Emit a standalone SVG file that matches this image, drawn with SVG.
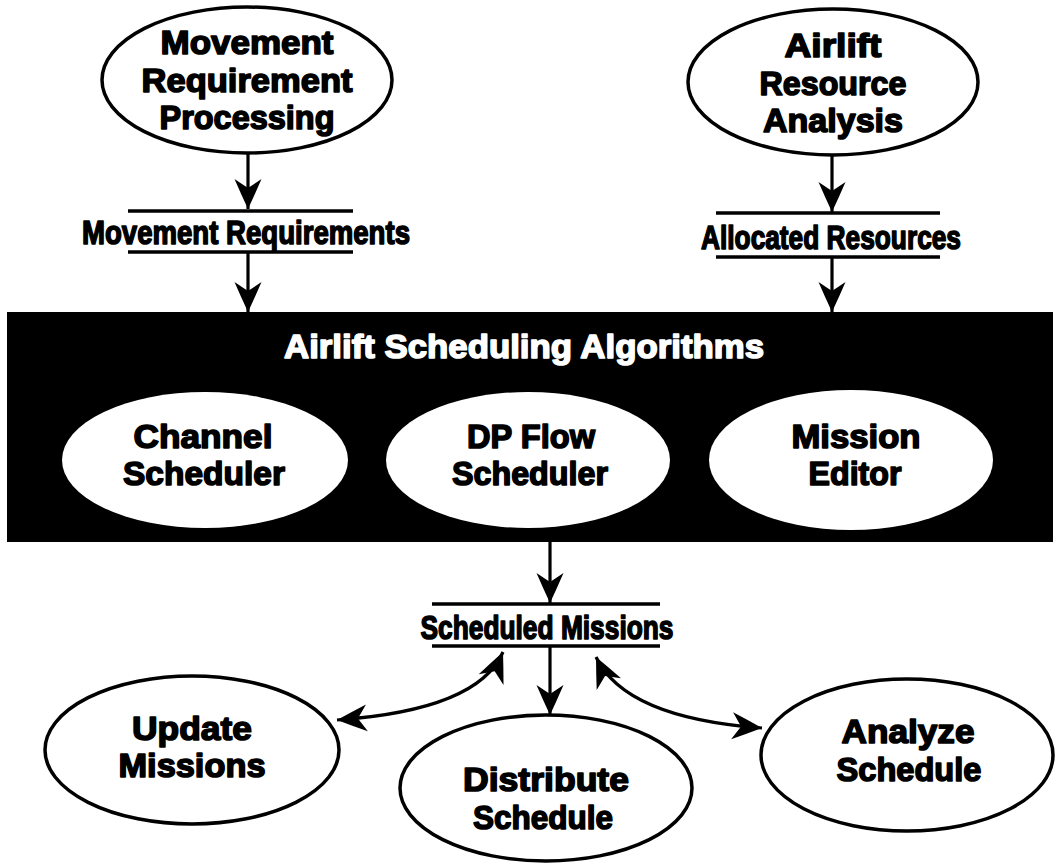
<svg xmlns="http://www.w3.org/2000/svg" width="1060" height="864" viewBox="0 0 1060 864">
  <style>
    .bg { fill: #ffffff; }
    .proc { fill: #ffffff; stroke: #000000; stroke-width: 3.5; }
    .inner { fill: #ffffff; stroke: none; }
    .band { fill: #000000; }
    .t { font-family: "Liberation Sans", Arial, sans-serif; font-weight: 700; font-size: 34px; fill: #000000; stroke: #000000; stroke-width: 1.6; stroke-linejoin: round; text-anchor: middle; }
    .tw { fill: #ffffff; stroke: #ffffff; }
    .store { stroke: #000000; stroke-width: 3.5; fill: none; }
    .flow { stroke: #000000; stroke-width: 3.2; fill: none; }
  </style>
  <defs>
    <marker id="head" viewBox="0 -14 31 28" refX="30" refY="0" markerWidth="31" markerHeight="28" markerUnits="userSpaceOnUse" orient="auto-start-reverse">
      <path d="M30,0 Q15,-7 0,-13.5 L9,0 L0,13.5 Q15,7 30,0 Z" fill="#000000"/>
    </marker>
  </defs>

  <rect class="bg" x="0" y="0" width="1060" height="864"/>

  <!-- source processes -->
  <g id="movement-requirement-processing">
    <ellipse class="proc" cx="247" cy="80" rx="145" ry="73"/>
    <text class="t" x="247" y="54" textLength="173" lengthAdjust="spacingAndGlyphs">Movement</text>
    <text class="t" x="247" y="92" textLength="211" lengthAdjust="spacingAndGlyphs">Requirement</text>
    <text class="t" x="247" y="129" textLength="175" lengthAdjust="spacingAndGlyphs">Processing</text>
  </g>

  <g id="airlift-resource-analysis">
    <ellipse class="proc" cx="833" cy="82" rx="145" ry="73"/>
    <text class="t" x="833" y="57" textLength="97" lengthAdjust="spacingAndGlyphs">Airlift</text>
    <text class="t" x="833" y="95" textLength="147" lengthAdjust="spacingAndGlyphs">Resource</text>
    <text class="t" x="833" y="132" textLength="140" lengthAdjust="spacingAndGlyphs">Analysis</text>
  </g>

  <!-- data stores -->
  <g id="movement-requirements">
    <line class="store" x1="128" y1="211" x2="353" y2="211"/>
    <line class="store" x1="128" y1="252" x2="353" y2="252"/>
    <text class="t" x="246" y="244" textLength="328" lengthAdjust="spacingAndGlyphs">Movement Requirements</text>
  </g>

  <g id="allocated-resources">
    <line class="store" x1="716" y1="213" x2="940" y2="213"/>
    <line class="store" x1="716" y1="257" x2="940" y2="257"/>
    <text class="t" x="831" y="249" textLength="260" lengthAdjust="spacingAndGlyphs">Allocated Resources</text>
  </g>

  <!-- algorithm block -->
  <g id="airlift-scheduling-algorithms">
    <rect class="band" x="7" y="312" width="1046" height="230"/>
    <text class="t tw" x="524" y="358" font-size="37" textLength="480" lengthAdjust="spacingAndGlyphs">Airlift Scheduling Algorithms</text>
  </g>

  <g id="channel-scheduler">
    <ellipse class="inner" cx="205" cy="460" rx="143" ry="68"/>
    <text class="t" x="203" y="448" textLength="139" lengthAdjust="spacingAndGlyphs">Channel</text>
    <text class="t" x="204" y="485" textLength="162" lengthAdjust="spacingAndGlyphs">Scheduler</text>
  </g>

  <g id="dp-flow-scheduler">
    <ellipse class="inner" cx="528" cy="460" rx="142" ry="68"/>
    <text class="t" x="531" y="448" textLength="128" lengthAdjust="spacingAndGlyphs">DP Flow</text>
    <text class="t" x="530" y="485" textLength="156" lengthAdjust="spacingAndGlyphs">Scheduler</text>
  </g>

  <g id="mission-editor">
    <ellipse class="inner" cx="851" cy="460" rx="142" ry="70"/>
    <text class="t" x="856" y="448" textLength="129" lengthAdjust="spacingAndGlyphs">Mission</text>
    <text class="t" x="855" y="485" textLength="93" lengthAdjust="spacingAndGlyphs">Editor</text>
  </g>

  <g id="scheduled-missions">
    <line class="store" x1="432" y1="604" x2="660" y2="604"/>
    <line class="store" x1="432" y1="646" x2="660" y2="646"/>
    <text class="t" x="547" y="639" textLength="253" lengthAdjust="spacingAndGlyphs">Scheduled Missions</text>
  </g>

  <!-- downstream processes -->
  <g id="update-missions">
    <ellipse class="proc" cx="192" cy="750" rx="147" ry="74"/>
    <text class="t" x="192" y="740" textLength="120" lengthAdjust="spacingAndGlyphs">Update</text>
    <text class="t" x="192" y="777" textLength="147" lengthAdjust="spacingAndGlyphs">Missions</text>
  </g>

  <g id="distribute-schedule">
    <ellipse class="proc" cx="546" cy="788" rx="146" ry="73"/>
    <text class="t" x="546" y="791" textLength="166" lengthAdjust="spacingAndGlyphs">Distribute</text>
    <text class="t" x="543" y="829" textLength="140" lengthAdjust="spacingAndGlyphs">Schedule</text>
  </g>

  <g id="analyze-schedule">
    <ellipse class="proc" cx="907" cy="755" rx="146" ry="76"/>
    <text class="t" x="908" y="743" textLength="133" lengthAdjust="spacingAndGlyphs">Analyze</text>
    <text class="t" x="909" y="781" textLength="145" lengthAdjust="spacingAndGlyphs">Schedule</text>
  </g>

  <!-- data flows -->
  <g id="connectors">
    <path class="flow" d="M248,153 L248,209" marker-end="url(#head)"/>
    <path class="flow" d="M248,252 L248,312" marker-end="url(#head)"/>
    <path class="flow" d="M832,156 L832,212" marker-end="url(#head)"/>
    <path class="flow" d="M832,257 L832,312" marker-end="url(#head)"/>
    <path class="flow" d="M550,542 L550,603" marker-end="url(#head)"/>
    <path class="flow" d="M550,646 L550,715" marker-end="url(#head)"/>
    <path class="flow" d="M503,652 Q478,710 337,720" marker-start="url(#head)" marker-end="url(#head)"/>
    <path class="flow" d="M596,657 Q625,718 762,728" marker-start="url(#head)" marker-end="url(#head)"/>
  </g>
</svg>
